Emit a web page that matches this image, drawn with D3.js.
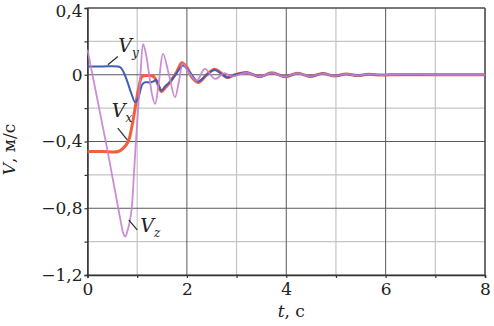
<!DOCTYPE html>
<html>
<head>
<meta charset="utf-8">
<script src="https://cdn.jsdelivr.net/npm/d3@7"></script>
<style>
  body { margin: 0; background: #fff; }
  text { font-family: "DejaVu Serif", "Liberation Serif", serif; fill: #222; }
</style>
</head>
<body>
<div id="chart"></div>
<script>
// Data
var vyT = [0, 0.3, 0.6, 0.66, 0.72, 0.8, 0.88, 0.96, 1.02, 1.1, 1.15, 1.25, 1.33, 1.38, 1.44, 1.49, 1.56, 1.65, 1.75, 1.84, 1.92, 2.05, 2.22, 2.4, 2.56, 2.7, 2.82, 2.97, 3.2, 3.47, 3.71, 3.97, 4.23, 4.48, 4.73, 4.98, 5.2, 5.43, 5.65, 5.9, 6.1, 7, 8];
var vyV = [0.05, 0.05, 0.05, 0.045, 0.02, -0.04, -0.11, -0.165, -0.14, -0.06, -0.046, -0.046, -0.04, -0.03, -0.07, -0.095, -0.07, -0.046, -0.01, 0.03, 0.055, 0.02, -0.04, 0.0, 0.028, 0.005, -0.016, 0.0, 0.013, -0.012, 0.011, -0.012, 0.009, -0.01, 0.007, -0.008, 0.005, -0.005, 0.003, -0.002, 0, 0, 0];

var vxT = [0, 0.3, 0.62, 0.72, 0.82, 0.9, 0.97, 1.03, 1.1, 1.2, 1.33, 1.42, 1.49, 1.56, 1.68, 1.8, 1.9, 2.0, 2.1, 2.23, 2.4, 2.56, 2.68, 2.8, 2.97, 3.2, 3.47, 3.71, 3.97, 4.23, 4.48, 4.73, 4.98, 5.2, 5.43, 5.65, 5.9, 6.1, 7, 8];
var vxV = [-0.46, -0.46, -0.46, -0.44, -0.4, -0.3, -0.18, -0.08, -0.01, -0.005, -0.01, -0.06, -0.1, -0.08, -0.036, 0.02, 0.072, 0.045, -0.015, -0.046, 0.0, 0.033, 0.012, -0.016, 0.0, 0.014, -0.012, 0.012, -0.012, 0.009, -0.01, 0.007, -0.008, 0.005, -0.005, 0.003, -0.002, 0, 0, 0];

var vzT = [0, 0.1, 0.2, 0.3, 0.4, 0.5, 0.6, 0.67, 0.72, 0.76, 0.8, 0.85, 0.89, 0.93, 0.97, 1.02, 1.07, 1.12, 1.18, 1.24, 1.3, 1.36, 1.43, 1.52, 1.64, 1.76, 1.84, 1.92, 2.05, 2.2, 2.36, 2.57, 2.75, 2.92, 3.2, 3.47, 3.71, 3.97, 4.23, 4.48, 4.73, 4.98, 5.2, 5.43, 5.65, 5.9, 6.1, 7, 8];
var vzV = [0.15, 0.0, -0.15, -0.3, -0.45, -0.61, -0.77, -0.88, -0.95, -0.97, -0.94, -0.88, -0.8, -0.62, -0.42, -0.2, 0.02, 0.183, 0.12, 0.0, -0.12, -0.175, -0.06, 0.125, 0.0, -0.135, -0.04, 0.065, 0.01, -0.036, 0.035, -0.025, 0.01, -0.01, 0.012, -0.012, 0.011, -0.012, 0.009, -0.01, 0.007, -0.008, 0.005, -0.005, 0.003, -0.002, 0, 0, 0];

var xTicks = [0, 2, 4, 6, 8];
var xMinor = [1, 3, 5, 7];
var yTicks = [0.4, 0, -0.4, -0.8, -1.2];
var yTickLabels = ["0,4", "0", "\u22120,4", "\u22120,8", "\u22121,2"];
var yMinor = [0.2, -0.2, -0.6, -1.0];

// Label anchors (t, v) for the curve names and their leader lines
var labels = [
  {name: "V", sub: "y", t: 0.62, v: 0.135, from: [0.41, 0.06], to: [0.61, 0.11]},
  {name: "V", sub: "x", t: 0.49, v: -0.255, from: [0.8, -0.39], to: [0.61, -0.32]},
  {name: "V", sub: "z", t: 1.06, v: -0.945, from: [1.0, -0.93], to: [0.83, -0.87]}
];

var W = 494, H = 326;
var margin = {top: 8, right: 9, bottom: 51, left: 87.5},
  width = W - margin.left - margin.right,
  height = H - margin.top - margin.bottom;

var svg = d3.select("#chart").append("svg")
  .attr("width", W).attr("height", H)
  .append("g")
  .attr("transform", "translate(" + margin.left + "," + margin.top + ")");

var x = d3.scaleLinear().domain([0, 8]).range([0, width]);
var y = d3.scaleLinear().domain([-1.2, 0.4]).range([height, 0]);

// Minor grid
svg.selectAll(".gxm").data(xMinor).enter().append("line")
  .attr("x1", d => x(d)).attr("x2", d => x(d)).attr("y1", 0).attr("y2", height)
  .style("stroke", "#c4c4c4").style("stroke-width", 1.2);
svg.selectAll(".gym").data(yMinor).enter().append("line")
  .attr("y1", d => y(d)).attr("y2", d => y(d)).attr("x1", 0).attr("x2", width)
  .style("stroke", "#c4c4c4").style("stroke-width", 1.2);

// Major grid
svg.selectAll(".gx").data(xTicks).enter().append("line")
  .attr("x1", d => x(d)).attr("x2", d => x(d)).attr("y1", 0).attr("y2", height)
  .style("stroke", "#5a5a5a").style("stroke-width", 1);
svg.selectAll(".gy").data(yTicks).enter().append("line")
  .attr("y1", d => y(d)).attr("y2", d => y(d)).attr("x1", 0).attr("x2", width)
  .style("stroke", "#5a5a5a").style("stroke-width", 1);

// Axes
var xAxis = svg.append("g").attr("transform", "translate(0," + height + ")")
  .call(d3.axisBottom(x).tickValues(xTicks.concat(xMinor)).tickSize(3)
    .tickFormat(d => xTicks.indexOf(d) >= 0 ? d : ""));
var yAxis = svg.append("g")
  .call(d3.axisLeft(y).tickValues(yTicks.concat(yMinor)).tickSize(3)
    .tickFormat(d => yTicks.indexOf(d) >= 0 ? yTickLabels[yTicks.indexOf(d)] : ""));
[xAxis, yAxis].forEach(function(a) {
  a.select(".domain").style("stroke", "#333").style("stroke-width", 1.5);
  a.selectAll(".tick line").style("stroke", "#333").style("stroke-width", 1.2);
  a.selectAll(".tick text").style("font-size", "17px").style("fill", "#222")
    .style("font-family", "'DejaVu Serif', serif");
});
xAxis.selectAll(".tick text").attr("dy", "0.85em").attr("y", 6);
yAxis.selectAll(".tick text").attr("x", -5)
  .attr("dy", d => d === 0.4 ? "0.52em" : "0.32em");

// Top and right border
svg.append("line").attr("x1", 0).attr("x2", width).attr("y1", 0).attr("y2", 0)
  .style("stroke", "#444").style("stroke-width", 1.2);
svg.append("line").attr("x1", width).attr("x2", width).attr("y1", 0).attr("y2", height)
  .style("stroke", "#444").style("stroke-width", 1.2);

var line = d3.line().x(d => x(d[0])).y(d => y(d[1])).curve(d3.curveCatmullRom.alpha(0.5));

function series(ts, vs) { return ts.map(function(t, i) { return [t, vs[i]]; }); }

svg.append("path").datum(series(vxT, vxV)).attr("d", line)
  .style("fill", "none").style("stroke", "#f2603a").style("stroke-width", 3);
svg.append("path").datum(series(vyT, vyV)).attr("d", line)
  .style("fill", "none").style("stroke", "#3f5fb5").style("stroke-width", 2);
svg.append("path").datum(series(vzT, vzV)).attr("d", line)
  .style("fill", "none").style("stroke", "#c77fd2").style("stroke-width", 1.8).style("opacity", 0.9);

// Curve names with leader lines
labels.forEach(function(l) {
  svg.append("line")
    .attr("x1", x(l.from[0])).attr("y1", y(l.from[1]))
    .attr("x2", x(l.to[0])).attr("y2", y(l.to[1]))
    .style("stroke", "#333").style("stroke-width", 1.3);
  var t = svg.append("text").attr("x", x(l.t)).attr("y", y(l.v))
    .style("font-size", "19px").style("font-style", "italic");
  t.append("tspan").text(l.name);
  t.append("tspan").text(l.sub).attr("dy", 5).style("font-size", "12px");
});

// Axis titles
var yt = svg.append("text")
  .attr("transform", "translate(" + (-73) + "," + (height / 2 + 8) + ") rotate(-90)")
  .style("text-anchor", "middle").style("font-size", "17px");
yt.append("tspan").text("V").style("font-style", "italic");
yt.append("tspan").text(", м/с");

var xt = svg.append("text").attr("x", x(4.1)).attr("y", height + 42)
  .style("text-anchor", "middle").style("font-size", "17px");
xt.append("tspan").text("t").style("font-style", "italic");
xt.append("tspan").text(", с");
</script>
</body>
</html>
